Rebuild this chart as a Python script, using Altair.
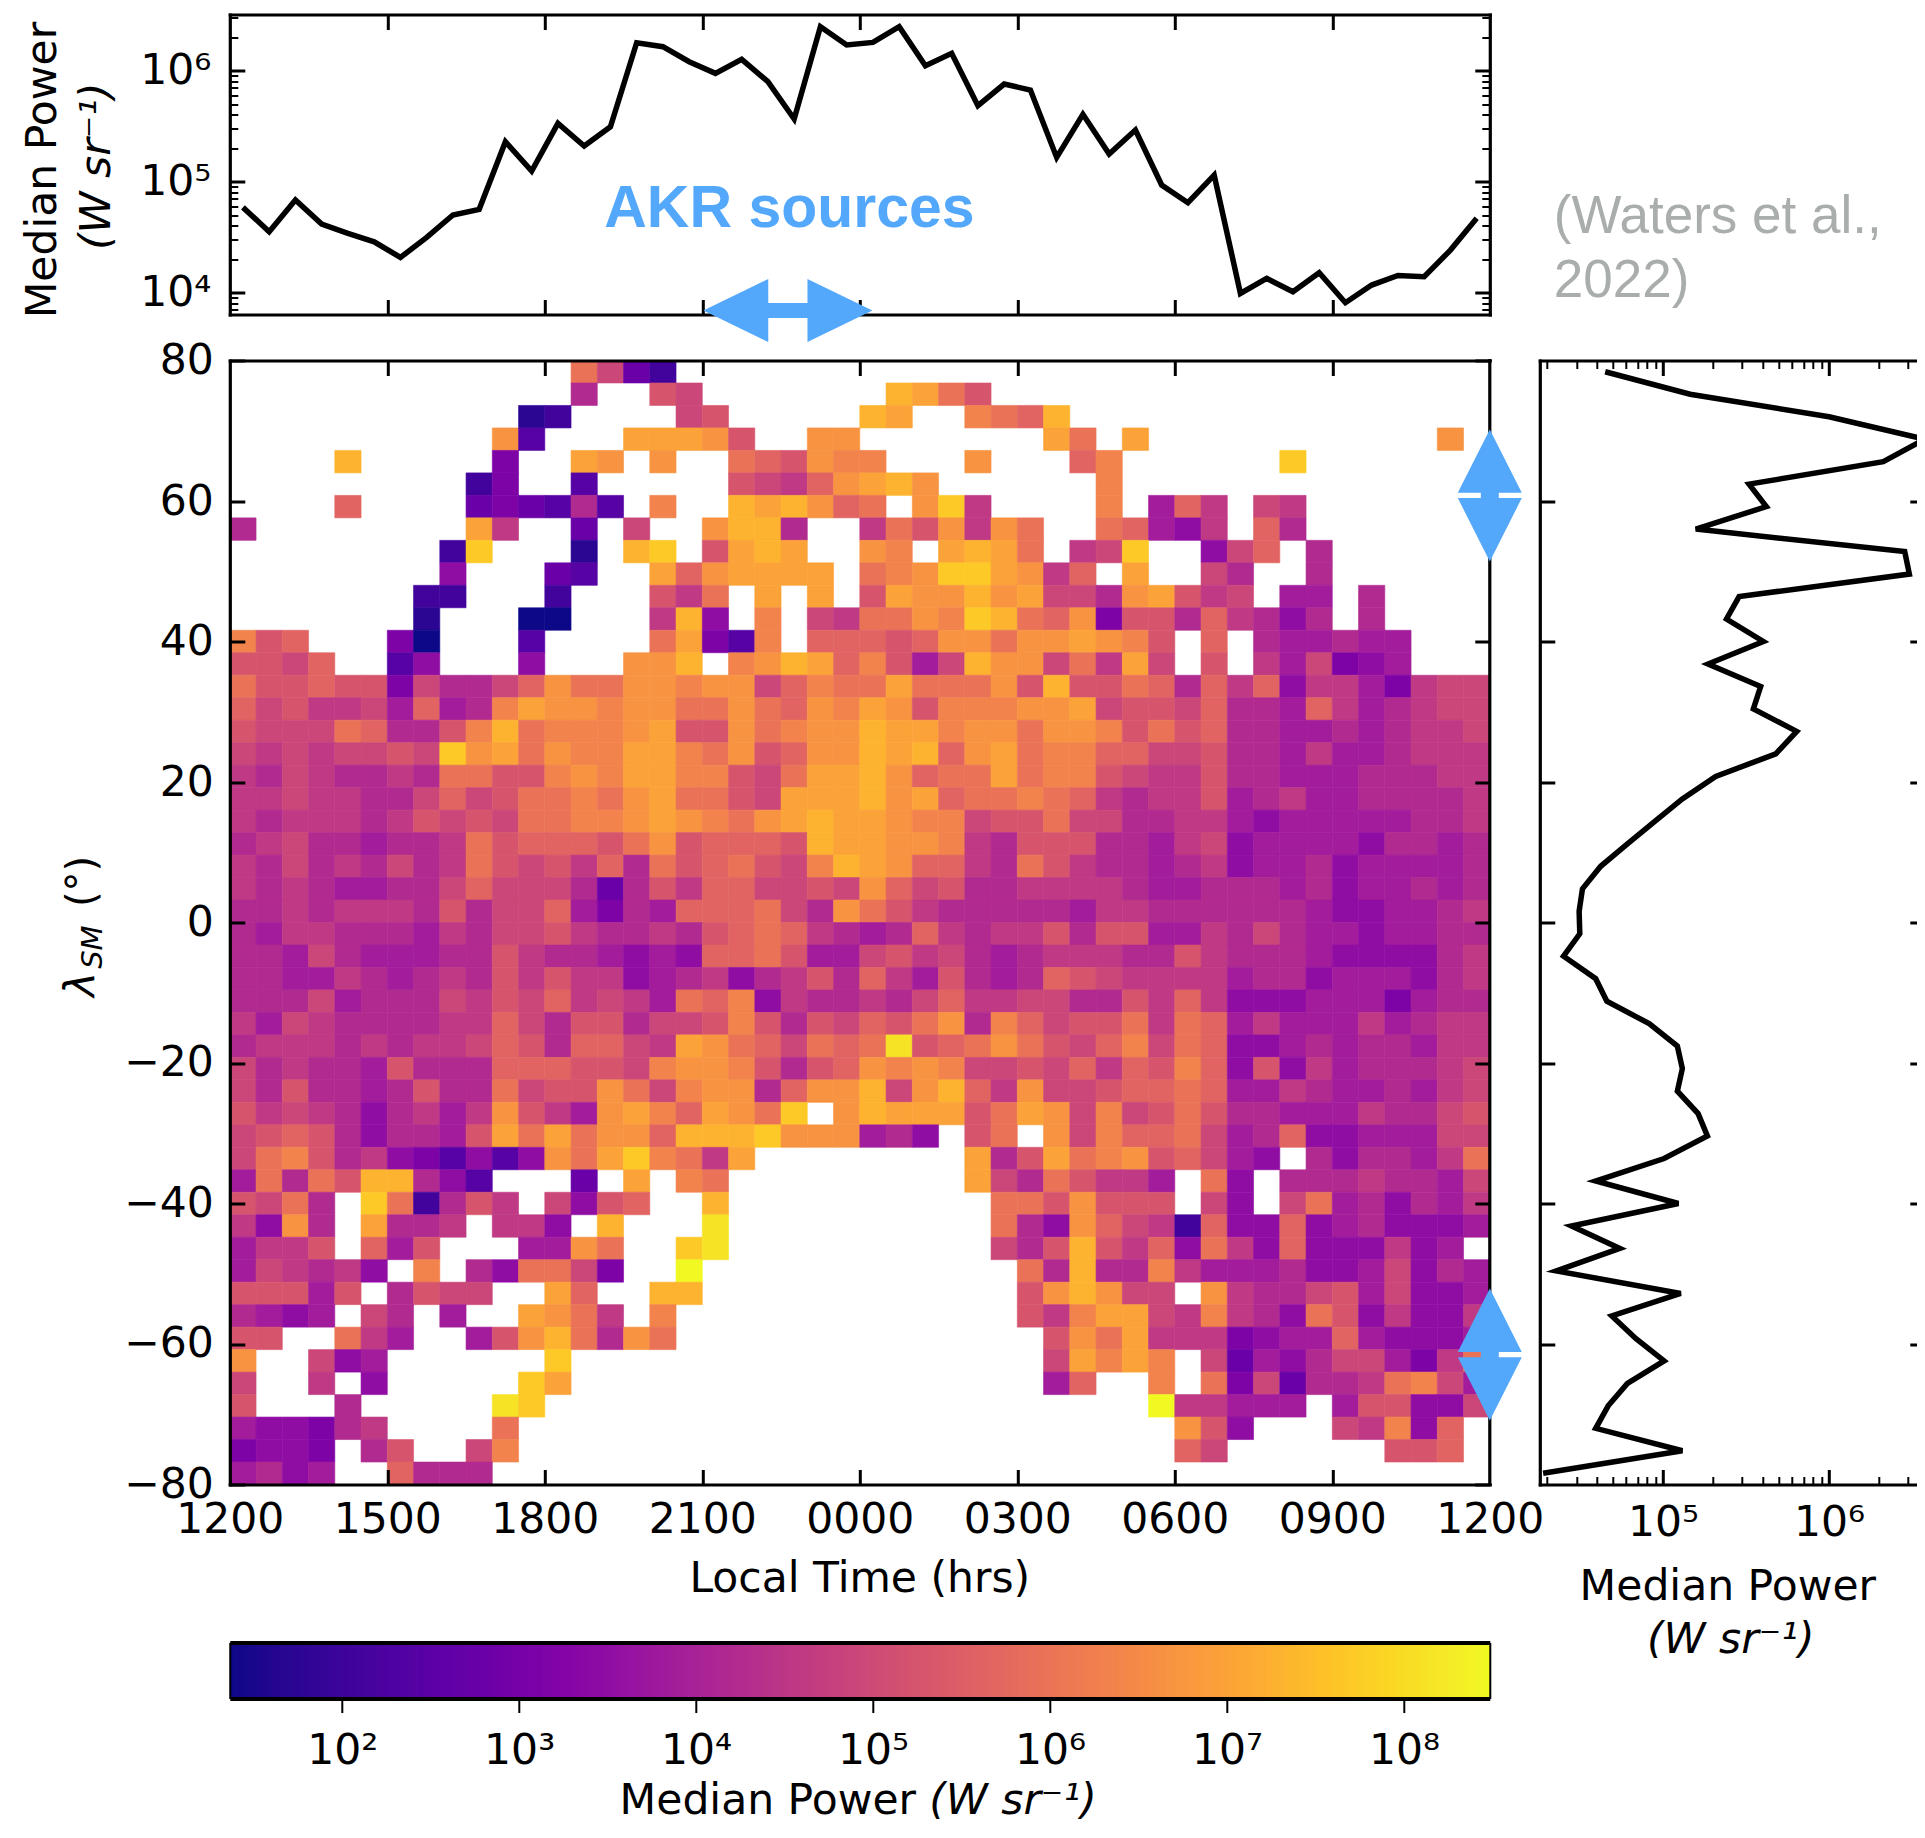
import altair as alt
import pandas as pd
import numpy as np

# heat-map cells: letter = colour level, '.' = no data; rows run from +80 down to -80
heat_rows = [
"...... ...... .nkec. ...... ...... ...... ...... ......",
"...... ...... .i..lk ...... .rqnl. ...... ...... ......",
"...... .....b c....k l..... rq..on mr.... ...... ......",
"...... ....pd ...qqq pl..pp ...... .qn.q. ...... ....p.",
"....r. ....f. .qp.p. .nmlpo o...p. ..mo.. ....s. ......",
"...... ...cf. .d.... .lkjmp qrp... ...o.. ...... ......",
"....m. ...efe did.o. .rqrpm n.psj. ...o.h mj.kj. ......",
"i..... ...qj. .e.k.. prri.. jnlpjp n..nmh gj.mi. ......",
"...... ..cs.. .b.rs. lqrq.. po.qrq n.jks. .gkm.i ......",
"...... ..g... ed..qm pqqqq. nopssq pjm.q. .ki..i ......",
"...... .cc... c...lj n.q.q. lqpprp qkkipq ljk.hh .i....",
"...... .b...a a...jr g.o.kj nnposr nmpfll imjigi .i....",
"olm... fa...d ....nq fdo.mm mlmppn ppqpol .m.ihh ihh...",
"llkm.. dg...g ...ppr .oprqm olhkrp pknjqk .l.jhk fgh...",
"nllmll fkiikm pnnppo ppkmon nqnnnp lrllnm imjmgj jhfjkk",
"mkljjk hmhioq ppoppn npnmpo qplooo ppqkll kmiihm jhijkk",
"lkkknm iilorn ooopql lpnopp rqqopp nppoln lmiihh ihijjk",
"kjkjkk lkspqn pooqqo nplmpp rqrmpq noommk kliihj hhijjj",
"jikjii jinnll opoqqo olknqq rpmnnq noolkj jliihh hiiijj",
"jjkjji ikmkln nonpqn nlkqqq rpqmnn onmjij jlhijh hiiiij",
"jijjji jlklkn noopqp onpqrq qpookl lnkkii jjhghh hhhiij",
"ijkiih iijnlm mmlnpl mmmlrq qppoji llliih jkghhh hgiihi",
"jikiji kijnlk ljminl mnlkor qpmmji nljiih ijghhi ghhhhi",
"jijihh iikmkk kieilj mmkklk pmklii jjjjih hiiihi ghhihi",
"iijijj jilikk mhfihm mmnkip nljiii iihjji iiiiih gghhij",
"ihjjii ihjikk ljiiji lmnmji himjij jlillh hjikih hghhii",
"iihkih hhiilj iihghg mmnlhh kljkih ijjjii ljiiih ggggij",
"iihhji hijilj ljjghi jgijli mjhlih imlkjj jjhiig hhhgij",
"iiikhi iikjlk mjkjhn mogjii jikmjj kkiilj mjgggh hhfhii",
"jhkjii iijjmk illikk lolilk mlnpio mkllnj nmhjhh hjhijj",
"ijjjij ijjkml immkjq pnmknm ntlmnp nlkmok nmgghi hiihjj",
"kijiih liiimm mllkop polilm popokk lkmjml omglgj hiiijk",
"kiliih iliink llpnko ppimpp rkprmj pkklmm nmhhji hhihjk",
"ljkjig ijhjpl jhpqom qpns.p rqqqln qpkokl nliihh hjiikl",
"klmlig iihlqn qnppmr rrsppp hig.ln .pkomm nkhimg ghhhkk",
"knolij gfdgdg pnqson jq.... ....qi lqnopl mkhg.i giihjn",
"hninlr rigd.. .e.q.o n..... ....qk inljjh .ng.ii ijiihk",
"lkni.s ncilj. kglm.. r..... .....n nlplll .kg.kn higihj",
"jgpi.q iij.jj g.r... t..... .....n igpmkj cmggmg higggh",
"hjjl.m hl...h hpn..s t..... .....k ilrljm gnjgmg ggjgh.",
"hkjijg .o.ign nkf..u ...... ...... niriio jhhhig ghkgih",
"lllhl. ilkk.. qm..rr ...... ...... lprpkk .pjiik lhkggh",
"ihgh.k i.h..q pnj.o. ...... ...... ljoqqk jojign lgjggj",
"ll..nj h..hlp rnipn. ...... ...... .lpnqj jjfghh mhgggh",
"p..kgh ...... s..... ...... ...... .kqoqo .kehgi kkhfjn",
"k..j.g .....s q..... ...... ...... .hm..o .nfkei ijnokh",
"l...i. ....ts ...... ...... ...... .....u jjhhh. hllggk",
"hggfij ....n. ...... ...... ...... ...... plg... kjogm.",
"fggf.i l..ko. ...... ...... ...... ...... mk.... ..llm.",
"high.. miii.. ...... ...... ...... ...... ...... ......",
]
# log10 power for each letter
level_log10 = dict(zip("abcdefghijklmnopqrstu",
    [1.37,1.72,2.08,2.43,2.79,3.15,3.50,3.86,4.21,4.57,4.93,5.28,5.64,5.99,6.35,6.68,6.98,7.30,7.68,8.13,8.49]))

# top panel: median power by local time bin (log10)
lt_log10 = [4.769,4.550,4.835,4.619,4.535,4.459,4.318,4.498,4.700,4.751,5.360,5.096,5.526,5.321,5.495,6.252,
            6.216,6.081,5.976,6.102,5.901,5.565,6.396,6.231,6.255,6.396,6.045,6.156,5.685,5.880,5.826,5.219,
            5.607,5.249,5.465,4.970,4.811,5.060,3.994,4.129,4.009,4.180,3.910,4.069,4.156,4.144,4.384,4.670]
# right panel: median power by latitude bin (log10), top to bottom
lat_log10 = [4.651,5.163,6.000,6.576,6.327,5.518,5.622,5.197,6.456,6.484,5.458,5.382,5.604,5.271,5.588,5.544,5.805,
             5.679,5.317,5.116,4.950,4.785,4.624,4.514,4.494,4.498,4.400,4.594,4.661,4.916,5.086,5.116,5.086,5.211,
             5.267,5.006,4.594,5.092,4.448,4.739,4.357,5.106,4.691,4.835,5.006,4.785,4.669,4.594,5.116,4.277]

FONT = "DejaVu Sans"
FS = 42.5
BLUE = "#54a8fb"
W, H = 1260, 1124
TOP_H, RIGHT_W, CB_H, GAP_H = 300, 385, 56, 65.5
LINE_W = 5.5

sx_lt = alt.Scale(domain=[12, 36], nice=False, zero=False)
sy_lat = alt.Scale(domain=[-80, 80], nice=False, zero=False)
sy_top = alt.Scale(type="log", domain=[10**3.804, 10**6.506], nice=False)
sx_right = alt.Scale(type="log", domain=[10**4.257, 10**6.577], nice=False)
sx_cb = alt.Scale(type="log", domain=[10**1.365, 10**8.485], nice=False)
sy_unit = alt.Scale(domain=[0, 1], nice=False, zero=False)
cs = alt.Scale(type="log", domain=[10**1.365, 10**8.485], scheme="plasma", clamp=True)

SUP = "['⁰','¹','²','³','⁴','⁵','⁶','⁷','⁸','⁹'][round(log(datum.value)/LN10)]"
POW_LABEL = "'10' + " + SUP
LT_LABEL = "format(datum.value % 24 * 100, '04d')"

log_dec = [1e4, 1e5, 1e6]
top_minor = [7e3, 8e3, 9e3] + [m * d for d in [1e4, 1e5] for m in range(2, 10)] + [2e6, 3e6]
right_minor = [m * d for d in [1e4, 1e5] for m in range(2, 10)] + [2e6, 3e6]
lt_ticks = [15, 18, 21, 24, 27, 30, 33]
lt_all = [12] + lt_ticks + [36]
lat_ticks = [-60, -40, -20, 0, 20, 40, 60]
lat_all = [-80] + lat_ticks + [80]


def guide(sx, sy, pt, xaxis=None, yaxis=None):
    d = pd.DataFrame({"x": [pt[0]], "y": [pt[1]]})
    return alt.Chart(d).mark_point(opacity=0).encode(
        x=alt.X("x:Q", scale=sx, axis=xaxis),
        y=alt.Y("y:Q", scale=sy, axis=yaxis),
    )


def tick_axis(orient, offset, values, size, width, domain=False, z=0):
    return alt.Axis(orient=orient, offset=offset, values=values, labels=False, title=None, grid=False,
                    ticks=True, tickSize=size, tickWidth=width, tickColor="black",
                    domain=domain, domainWidth=3.2, domainColor="black", domainCap="square", zindex=z)


def frame(sx, sy, pt, w, h, xmaj, ymaj, xmin=None, ymin=None, z=0, ymaj_right=None, right_domain=True):
    out = []
    out.append(guide(sx, sy, pt, xaxis=tick_axis("bottom", -h, xmaj, 15, 3, True, z)))
    out.append(guide(sx, sy, pt, xaxis=tick_axis("top", -h, xmaj, 15, 3, True, z)))
    out.append(guide(sx, sy, pt, yaxis=tick_axis("right", -w, ymaj, 15, 3, True, z)))
    out.append(guide(sx, sy, pt, yaxis=tick_axis("left", -w, ymaj_right or ymaj, 15, 3, right_domain, z)))
    if xmin:
        out.append(guide(sx, sy, pt, xaxis=tick_axis("bottom", -h, xmin, 8, 2, False, z)))
        out.append(guide(sx, sy, pt, xaxis=tick_axis("top", -h, xmin, 8, 2, False, z)))
    if ymin:
        out.append(guide(sx, sy, pt, yaxis=tick_axis("right", -w, ymin, 8, 2, False, z)))
        out.append(guide(sx, sy, pt, yaxis=tick_axis("left", -w, ymin, 8, 2, False, z)))
    return out


def label_axis(orient, values, padding, expr=None, fmt=None):
    kw = dict(orient=orient, values=values, title=None, grid=False, domain=False, ticks=False, tickSize=0,
              labelPadding=padding, labelFontSize=FS, labelFont=FONT, labelColor="black",
              labelOverlap=False, labelFlush=False, labelBound=False)
    if expr:
        kw["labelExpr"] = expr
    if fmt:
        kw["format"] = fmt
    return alt.Axis(**kw)


def text(s, x, y, sx, sy, size=FS, font=FONT, color="black", style="normal", weight="normal",
         angle=0, align="center", baseline="alphabetic"):
    d = pd.DataFrame({"x": [x], "y": [y], "t": [s]})
    return alt.Chart(d).mark_text(font=font, fontSize=size, color=color, fontStyle=style, fontWeight=weight,
                                  angle=angle, align=align, baseline=baseline).encode(
        x=alt.X("x:Q", scale=sx, axis=None),
        y=alt.Y("y:Q", scale=sy, axis=None),
        text="t:N",
    )


HARROW = "M-1,0 L-0.232,-0.373 L-0.232,-0.089 L0.232,-0.089 L0.232,-0.373 L1,0 L0.232,0.373 L0.232,0.089 L-0.232,0.089 L-0.232,0.373 Z"
VARROW = "M0,-1 L0.485,-0.04 L0.136,-0.04 L0.136,0.04 L0.485,0.04 L0,1 L-0.485,0.04 L-0.136,0.04 L-0.136,-0.04 L-0.485,-0.04 Z"


def arrow(path, size, x, y, sx, sy):
    d = pd.DataFrame({"x": [x], "y": [y]})
    return alt.Chart(d).mark_point(shape=path, size=size, filled=True, color=BLUE, opacity=1, strokeWidth=0).encode(
        x=alt.X("x:Q", scale=sx, axis=None), y=alt.Y("y:Q", scale=sy, axis=None))


# ---------- top panel
top_df = pd.DataFrame({"x": [12.25 + 0.5 * i for i in range(48)], "y": [10**v for v in lt_log10]})
pt_top = (24, 1e5)
top_layers = frame(sx_lt, sy_top, pt_top, W, TOP_H, lt_ticks, log_dec, ymin=top_minor, z=0)
top_layers += [
    guide(sx_lt, sy_top, pt_top, yaxis=label_axis("left", log_dec, 19, POW_LABEL)),
    alt.Chart(top_df).mark_line(color="black", strokeWidth=LINE_W).encode(
        x=alt.X("x:Q", scale=sx_lt, axis=None), y=alt.Y("y:Q", scale=sy_top, axis=None)),
    text("AKR sources", 22.66, 10**4.595, sx_lt, sy_top, size=59, font="Liberation Sans", color=BLUE, weight="bold"),
    arrow(HARROW, 169**2, 22.63, 10**3.84, sx_lt, sy_top),
    text("Median Power", 8.693, 10**5.105, sx_lt, sy_top, angle=270),
    text("(W sr⁻¹)", 9.72, 10**5.14, sx_lt, sy_top, angle=270, style="italic"),
]
top = alt.layer(*top_layers).properties(width=W, height=TOP_H).resolve_axis(x="independent", y="independent")

# ---------- note panel
note = alt.layer(
    guide(sy_unit, sy_unit, (0.5, 0.5)),
    text("(Waters et al.,", 0.0364, 0.272, sy_unit, sy_unit, size=53, font="Liberation Sans", color="#a9adab", align="left"),
    text("2022)", 0.0364, 0.058, sy_unit, sy_unit, size=53, font="Liberation Sans", color="#a9adab", align="left"),
).properties(width=RIGHT_W, height=TOP_H)

# ---------- main heat map
cells = []
for r, row in enumerate(heat_rows):
    row = row.replace(" ", "")
    for c, ch in enumerate(row):
        if ch != ".":
            cells.append({"x": 12 + 0.5 * c, "x2": 12.5 + 0.5 * c, "y": 80 - 3.2 * r, "y2": 80 - 3.2 * (r + 1),
                          "p": 10 ** level_log10[ch]})
heat_df = pd.DataFrame(cells)
heat = alt.Chart(heat_df).mark_rect(strokeWidth=0.6).encode(
    x=alt.X("x:Q", scale=sx_lt, axis=None), x2="x2:Q",
    y=alt.Y("y:Q", scale=sy_lat, axis=None), y2="y2:Q",
    color=alt.Color("p:Q", scale=cs, legend=None),
    stroke=alt.Stroke("p:Q", scale=cs, legend=None),
)
spine_df = pd.DataFrame({"x": [36], "y": [-80], "y2": [80]})
right_spine = alt.Chart(spine_df).mark_rule(color="black", strokeWidth=3.2, strokeCap="square").encode(
    x=alt.X("x:Q", scale=sx_lt, axis=None),
    y=alt.Y("y:Q", scale=sy_lat, axis=None), y2="y2:Q")
pt_main = (24, 0)
main_layers = [heat, right_spine,
               arrow(VARROW, 132**2, 36, 60.8, sx_lt, sy_lat),
               arrow(VARROW, 132**2, 36, -61.5, sx_lt, sy_lat)]
main_layers += frame(sx_lt, sy_lat, pt_main, W, H, lt_ticks, lat_all, z=1,
                     ymaj_right=[-80, -40, -20, 0, 20, 40, 80], right_domain=False)
main_layers += [
    guide(sx_lt, sy_lat, pt_main, xaxis=label_axis("bottom", lt_all, 14, LT_LABEL)),
    guide(sx_lt, sy_lat, pt_main, yaxis=label_axis("left", lat_all, 16.5, fmt="d")),
    text("Local Time (hrs)", 24, -95.3, sx_lt, sy_lat),
    text("λ", 9.436, -8.8, sx_lt, sy_lat, angle=270, style="italic"),
    text("SM", 9.57, -3.5, sx_lt, sy_lat, size=29, angle=270, style="italic"),
    text("(°)", 9.436, 5.84, sx_lt, sy_lat, size=40, angle=270),
]
main = alt.layer(*main_layers).properties(width=W, height=H).resolve_axis(x="independent", y="independent")

# ---------- right panel
right_df = pd.DataFrame({"x": [10**v for v in lat_log10], "y": [78.4 - 3.2 * r for r in range(50)]})
pt_right = (1e5, 0)
right_layers = frame(sx_right, sy_lat, pt_right, RIGHT_W, H, [1e5, 1e6], lat_ticks, xmin=right_minor, z=0)
right_layers += [
    guide(sx_right, sy_lat, pt_right, xaxis=label_axis("bottom", [1e5, 1e6], 17, POW_LABEL)),
    alt.Chart(right_df).mark_line(color="black", strokeWidth=LINE_W, order=False, clip=True).encode(
        x=alt.X("x:Q", scale=sx_right, axis=None), y=alt.Y("y:Q", scale=sy_lat, axis=None)),
    text("Median Power", 10**5.39, -96.4, sx_right, sy_lat),
    text("(W sr⁻¹)", 10**5.408, -104.0, sx_right, sy_lat, style="italic"),
]
right = alt.layer(*right_layers).properties(width=RIGHT_W, height=H).resolve_axis(x="independent", y="independent")

# ---------- colour bar
cb_edges = np.logspace(1.365, 8.485, 300)
cb_df = pd.DataFrame({"x": cb_edges[:-1], "x2": np.minimum(cb_edges[:-1] * 1.12, cb_edges[-1]),
                      "y": 0, "y2": 1, "p": np.sqrt(cb_edges[:-1] * cb_edges[1:])})
cb_vals = [1e2, 1e3, 1e4, 1e5, 1e6, 1e7, 1e8]
pt_cb = (1e5, 0.5)
cb_rect = alt.Chart(cb_df).mark_rect().encode(
    x=alt.X("x:Q", scale=sx_cb, axis=None), x2="x2:Q",
    y=alt.Y("y:Q", scale=sy_unit, axis=None), y2="y2:Q",
    color=alt.Color("p:Q", scale=cs, legend=None),
)
cb_bottom = alt.Axis(orient="bottom", values=cb_vals, title=None, grid=False, domain=True, domainWidth=4, domainColor="black",
                     ticks=True, tickSize=14, tickWidth=2, tickColor="black", labelPadding=17.5, labelFontSize=FS,
                     labelFont=FONT, labelColor="black", labelExpr=POW_LABEL, labelOverlap=False, labelFlush=False,
                     labelBound=False, zindex=1)
cb_top = alt.Axis(orient="bottom", offset=-CB_H, values=[], labels=False, title=None, grid=False, domain=True,
                  domainWidth=4, domainColor="black", ticks=False, zindex=1)
cb_left = alt.Axis(orient="left", values=[], labels=False, title=None, grid=False, domain=True,
                   domainWidth=2, domainColor="black", ticks=False, zindex=1)
cb_right = alt.Axis(orient="right", values=[], labels=False, title=None, grid=False, domain=True,
                    domainWidth=2, domainColor="black", ticks=False, zindex=1)
colorbar = alt.layer(
    cb_rect,
    guide(sx_cb, sy_unit, pt_cb, xaxis=cb_bottom),
    guide(sx_cb, sy_unit, pt_cb, xaxis=cb_top),
    guide(sx_cb, sy_unit, pt_cb, yaxis=cb_left),
    guide(sx_cb, sy_unit, pt_cb, yaxis=cb_right),
    text("Median Power", 10**5.243, -2.054, sx_cb, sy_unit, align="right"),
    text("(W sr⁻¹)", 10**5.317, -2.054, sx_cb, sy_unit, align="left", style="italic"),
).properties(width=W, height=CB_H).resolve_axis(x="independent", y="independent")


def spacer(w, h):
    return guide(sy_unit, sy_unit, (0.5, 0.5)).properties(width=w, height=h)


chart = alt.concat(
    top, note,
    main, right,
    spacer(W, GAP_H), spacer(RIGHT_W, GAP_H),
    colorbar, spacer(RIGHT_W, CB_H),
    columns=2, spacing={"row": 46, "column": 50}, bounds="flush", align="each",
).properties(padding={"left": 13.8, "top": 4.5, "right": -10, "bottom": 0}, background="white"
).configure(font=FONT).configure_view(strokeWidth=0, stroke="transparent")

chart.save("out.html", embed_options={"renderer": "svg", "actions": False})
